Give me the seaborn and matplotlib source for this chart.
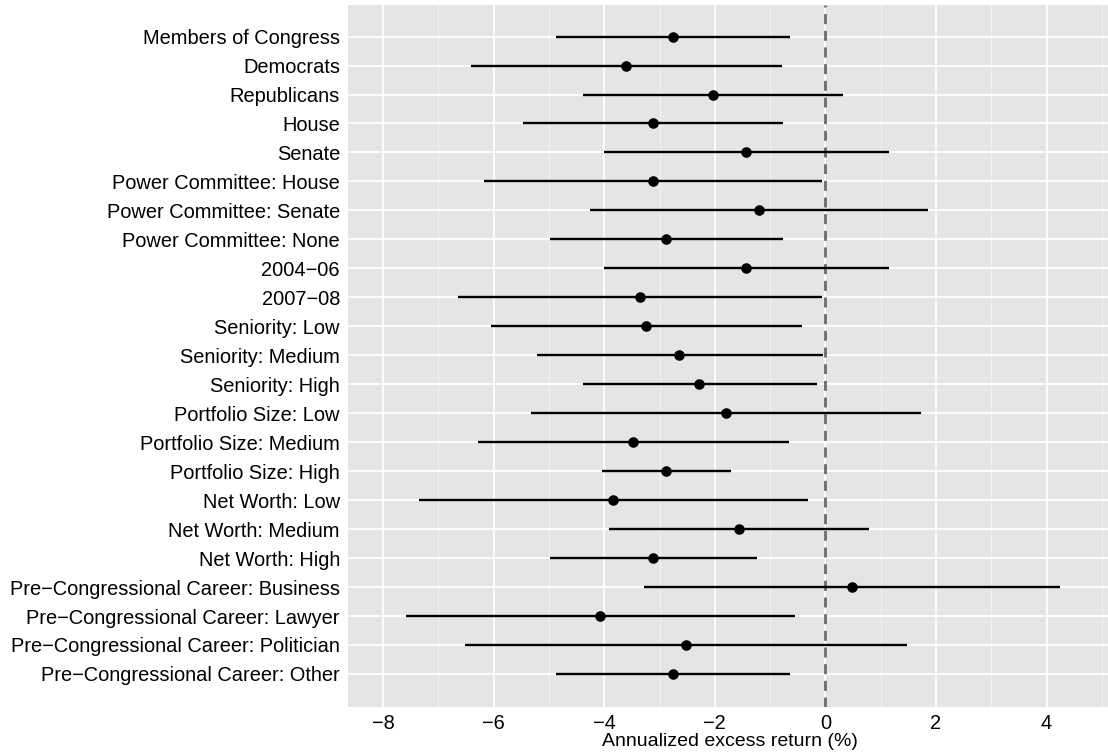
import matplotlib
matplotlib.use("Agg")
import matplotlib.pyplot as plt
import seaborn as sns
import numpy as np
import pandas as pd

# Annualized excess return estimates with interval bounds, by group
groups = [
    "Members of Congress", "Democrats", "Republicans", "House", "Senate",
    "Power Committee: House", "Power Committee: Senate", "Power Committee: None",
    "2004\u221206", "2007\u221208",
    "Seniority: Low", "Seniority: Medium", "Seniority: High",
    "Portfolio Size: Low", "Portfolio Size: Medium", "Portfolio Size: High",
    "Net Worth: Low", "Net Worth: Medium", "Net Worth: High",
    "Pre\u2212Congressional Career: Business", "Pre\u2212Congressional Career: Lawyer",
    "Pre\u2212Congressional Career: Politician", "Pre\u2212Congressional Career: Other",
]
estimate = [-2.76, -3.60, -2.04, -3.12, -1.44, -3.12, -1.20, -2.88, -1.44, -3.36,
            -3.24, -2.64, -2.28, -1.80, -3.48, -2.88, -3.84, -1.56, -3.12,
            0.48, -4.08, -2.52, -2.76]
lower = [-4.87, -6.41, -4.38, -5.47, -4.01, -6.17, -4.25, -4.99, -4.01, -6.64,
         -6.05, -5.21, -4.39, -5.32, -6.29, -4.04, -7.35, -3.91, -4.99,
         -3.28, -7.59, -6.51, -4.87]
upper = [-0.64, -0.78, 0.31, -0.77, 1.15, -0.06, 1.86, -0.76, 1.15, -0.07,
         -0.42, -0.05, -0.16, 1.72, -0.66, -1.70, -0.31, 0.79, -1.24,
         4.24, -0.55, 1.48, -0.64]
x_ticks = [-8, -6, -4, -2, 0, 2, 4]

df = pd.DataFrame({"group": groups, "estimate": estimate,
                   "lower": lower, "upper": upper})
df["pos"] = np.arange(len(df))[::-1]

sns.set_theme(style="darkgrid")
plt.rcParams["font.family"] = ["Liberation Sans", "DejaVu Sans"]

fig = plt.figure(figsize=(11.08, 7.54), dpi=100)
ax = fig.add_axes([347.7 / 1108, 1 - 706.7 / 754, (1108 - 347.7) / 1108, (706.7 - 5) / 754])
ax.set_facecolor("#E5E5E5")

# grid: major white lines, minor lighter lines between x ticks
ax.set_axisbelow(True)
ax.grid(False)
for v in np.arange(-9, 6, 2):
    ax.axvline(v, color="#F2F2F2", lw=0.8, zorder=0)
for v in x_ticks:
    ax.axvline(v, color="white", lw=1.3, zorder=0.5)
for p in df["pos"]:
    ax.axhline(p, color="white", lw=1.3, zorder=0.5)

# reference line at zero
ax.axvline(0, color="#6B6B6B", lw=2.0, dashes=(3.6, 2.4), zorder=1)

# interval segments and point estimates
ax.hlines(df["pos"], df["lower"], df["upper"], color="black", lw=1.7, zorder=2)
sns.scatterplot(data=df, x="estimate", y="pos", color="black", s=58,
                edgecolor="black", linewidth=0, ax=ax, zorder=3, legend=False)

ax.set_xlim(-8.64, 5.11)
ax.set_ylim(-1.13, 23.09)
ax.set_xticks(x_ticks)
ax.set_xticklabels([f"{t}".replace("-", "\u2212") for t in x_ticks])
ax.set_yticks(df["pos"])
ax.set_yticklabels(df["group"])
for s in ax.spines.values():
    s.set_visible(False)
ax.tick_params(axis="both", which="major", length=3.6, width=1.0, color="#7F7F7F",
               labelsize=14.4, labelcolor="black", pad=2)
ax.set_ylabel("")
ax.set_xlabel("Annualized excess return (%)", fontsize=14, color="black")
ax.xaxis.set_label_coords(0.503, -0.0375)

fig.savefig("out.png", dpi=100)
